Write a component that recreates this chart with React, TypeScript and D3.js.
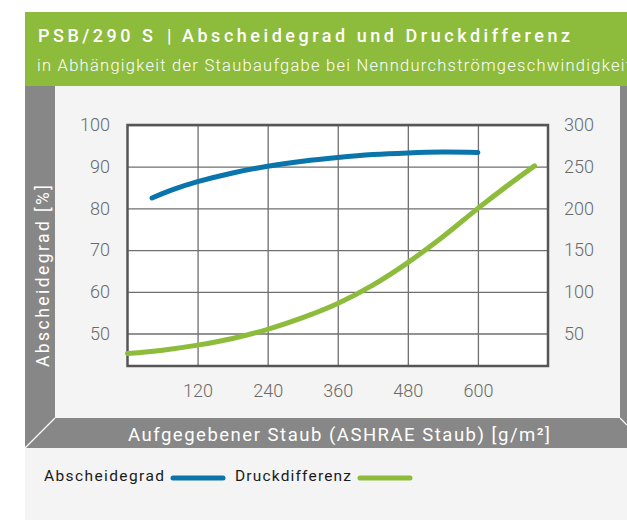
import * as d3 from "d3";
import { useEffect, useRef } from "react";

// values
const dustLoad = [42, 80, 120, 180, 240, 300, 360, 420, 480, 540, 600]; // g/m²
const efficiency = [82.5, 84.6, 86.4, 88.5, 90.1, 91.3, 92.2, 92.9, 93.3, 93.5, 93.4]; // %
const pressureLoad = [0, 60, 120, 180, 240, 300, 360, 420, 480, 540, 600, 650, 697];
const pressureDrop = [26, 30, 36, 44, 55, 69, 86, 108, 135, 166, 200, 227, 251]; // Pa

const xTicks = [120, 240, 360, 480, 600];
const leftTicks = [50, 60, 70, 80, 90, 100];
const rightTicks = [50, 100, 150, 200, 250, 300];

const titleCode = "PSB/290 S";
const titleMain = "Abscheidegrad und Druckdifferenz";
const subtitle = "in Abhängigkeit der Staubaufgabe bei Nenndurchströmgeschwindigkeit";
const yTitle = "Abscheidegrad [%]";
const xTitle = "Aufgegebener Staub (ASHRAE Staub) [g/m²]";
const legendNames = ["Abscheidegrad", "Druckdifferenz"];

const W = 627;
const H = 520;
const FONT = "Roboto, 'Liberation Sans', Arial, sans-serif";
const GREEN = "#8dbb3b";
const BLUE = "#0a75aa";
const GRAY = "#878787";

export default function App() {
  const svgRef = useRef<SVGSVGElement>(null);

  useEffect(() => {
    const svg = d3.select(svgRef.current);
    svg.selectAll("*").remove();

    const left = 127.5, right = 548, top = 125, bottom = 366;
    const x = d3.scaleLinear([0, 720], [left, right]);
    const yLeft = d3.scaleLinear([42.2, 100], [bottom, top]);
    const yRight = d3.scaleLinear([11, 300], [bottom, top]);

    // background + frame
    svg.append("rect").attr("x", 25).attr("y", 86).attr("width", W - 25).attr("height", H - 86).attr("fill", "#f4f4f4");
    svg.append("rect").attr("x", 25).attr("y", 12).attr("width", W - 25).attr("height", 74).attr("fill", GREEN);
    svg.append("polygon").attr("points", "25,86 55,86 55,418 25,448").attr("fill", GRAY);
    svg.append("polygon").attr("points", "620,86 627,86 627,425 620,418").attr("fill", GRAY);
    svg.append("polygon").attr("points", "25,448 55,418 620,418 627,425 627,448").attr("fill", GRAY);
    svg.append("line").attr("x1", 25).attr("y1", 448).attr("x2", 55).attr("y2", 418).attr("stroke", "#fff").attr("stroke-width", 1.2);
    svg.append("line").attr("x1", 620).attr("y1", 418).attr("x2", 627).attr("y2", 425).attr("stroke", "#fff").attr("stroke-width", 1.2);

    // header text
    const head = svg.append("g").attr("fill", "#fff").attr("font-family", FONT);
    head.append("text").attr("x", 38).attr("y", 42).attr("font-size", 18).attr("font-weight", 500)
      .attr("textLength", 115).attr("lengthAdjust", "spacing").text(titleCode);
    head.append("text").attr("x", 167).attr("y", 42).attr("font-size", 18).attr("font-weight", 500).text("|");
    head.append("text").attr("x", 182).attr("y", 42).attr("font-size", 18).attr("font-weight", 500)
      .attr("textLength", 388).attr("lengthAdjust", "spacing").text(titleMain);
    head.append("text").attr("x", 37).attr("y", 71).attr("font-size", 16.5).attr("font-weight", 300)
      .attr("textLength", 594).attr("lengthAdjust", "spacing").text(subtitle);

    // plot area
    svg.append("rect").attr("x", left).attr("y", top).attr("width", right - left).attr("height", bottom - top).attr("fill", "#fff");

    const gLeft = svg.append("g").attr("transform", `translate(${left},0)`)
      .call(d3.axisLeft(yLeft).tickValues(leftTicks).tickSize(-(right - left)).tickPadding(17.5));
    const gBottom = svg.append("g").attr("transform", `translate(0,${bottom})`)
      .call(d3.axisBottom(x).tickValues(xTicks).tickSize(-(bottom - top)).tickPadding(18).tickFormat(d3.format("d")));
    const gRight = svg.append("g").attr("transform", `translate(${right},0)`)
      .call(d3.axisRight(yRight).tickValues(rightTicks).tickSize(0).tickPadding(16));

    [gLeft, gBottom, gRight].forEach((g) => {
      g.select(".domain").remove();
      g.selectAll(".tick line").attr("stroke", "#6f6f6f").attr("stroke-width", 1.3);
      g.selectAll(".tick text").attr("fill", "#6a6a6a").attr("font-size", 18).attr("font-family", FONT).attr("font-weight", 300);
    });

    svg.append("rect").attr("x", left).attr("y", top).attr("width", right - left).attr("height", bottom - top)
      .attr("fill", "none").attr("stroke", "#555").attr("stroke-width", 2.5);

    // curves
    const effLine = d3.line<number>((_, i) => x(dustLoad[i]), (d) => yLeft(d)).curve(d3.curveCatmullRom);
    const dpLine = d3.line<number>((_, i) => x(pressureLoad[i]), (d) => yRight(d)).curve(d3.curveCatmullRom);
    svg.append("path").attr("d", dpLine(pressureDrop)).attr("fill", "none").attr("stroke", GREEN)
      .attr("stroke-width", 5).attr("stroke-linecap", "round");
    svg.append("path").attr("d", effLine(efficiency)).attr("fill", "none").attr("stroke", BLUE)
      .attr("stroke-width", 5).attr("stroke-linecap", "round");

    // axis titles
    svg.append("text").attr("transform", "translate(49,367) rotate(-90)").attr("fill", "#fff")
      .attr("font-family", FONT).attr("font-size", 17.5).attr("textLength", 182).attr("lengthAdjust", "spacing").text(yTitle);
    svg.append("text").attr("x", 128).attr("y", 441).attr("fill", "#fff")
      .attr("font-family", FONT).attr("font-size", 18.5).attr("textLength", 422).attr("lengthAdjust", "spacing").text(xTitle);

    // legend
    const legend = svg.append("g").attr("font-family", FONT).attr("font-size", 15.5).attr("fill", "#1a1a1a");
    const legendX = [44, 235];
    const legendLen = [120, 116];
    const legendColors = [BLUE, GREEN];
    legendNames.forEach((name, i) => {
      legend.append("text").attr("x", legendX[i]).attr("y", 481).attr("textLength", legendLen[i])
        .attr("lengthAdjust", "spacing").text(name);
      const lx = legendX[i] + legendLen[i] + 9;
      legend.append("line").attr("x1", lx).attr("x2", lx + 50).attr("y1", 478).attr("y2", 478)
        .attr("stroke", legendColors[i]).attr("stroke-width", 5).attr("stroke-linecap", "round");
    });
  }, []);

  return (
    <svg ref={svgRef} width={W} height={H} style={{ position: "absolute", left: 0, top: 0, background: "#fff" }} />
  );
}
